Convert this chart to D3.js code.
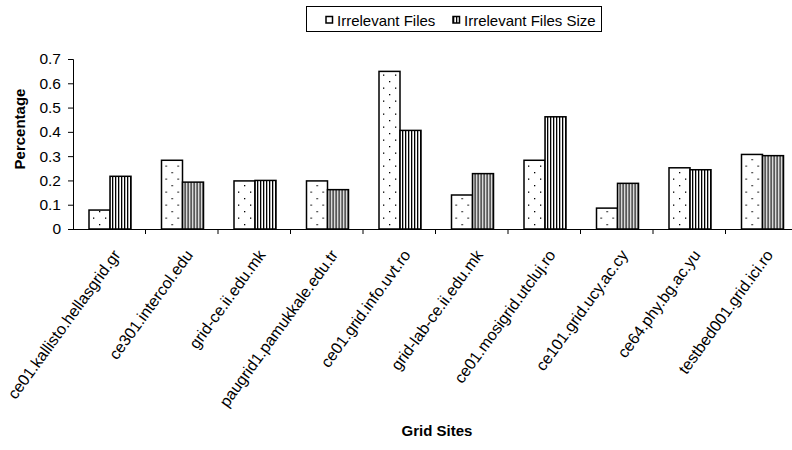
<!DOCTYPE html>
<html>
<head>
<meta charset="utf-8">
<script src="https://cdn.jsdelivr.net/npm/d3@7"></script>
<style>
	body { margin: 0; background: #fff; }
	svg { font-family: Arial, "Liberation Sans", sans-serif; }
</style>
</head>
<body>
<svg id="chart" width="792" height="450"></svg>
<script>
const sites = [
	"ce01.kallisto.hellasgrid.gr", "ce301.intercol.edu", "grid-ce.ii.edu.mk",
	"paugrid1.pamukkale.edu.tr", "ce01.grid.info.uvt.ro", "grid-lab-ce.ii.edu.mk",
	"ce01.mosigrid.utcluj.ro", "ce101.grid.ucy.ac.cy", "ce64.phy.bg.ac.yu",
	"testbed001.grid.ici.ro"
];
const seriesNames = ["Irrelevant Files", "Irrelevant Files Size"];
const irrelevantFiles = [0.078, 0.283, 0.198, 0.198, 0.649, 0.14, 0.283, 0.086, 0.252, 0.307];
const irrelevantSize = [0.217, 0.193, 0.2, 0.162, 0.406, 0.228, 0.462, 0.188, 0.244, 0.302];
const yTicks = [0, 0.1, 0.2, 0.3, 0.4, 0.5, 0.6, 0.7];

const margin = {top: 59, left: 73, bottom: 229, right: 798};

const svg = d3.select("#chart");
const defs = svg.append("defs");

// dotted fill
const dots = defs.append("pattern")
	.attr("id", "dots")
	.attr("patternUnits", "userSpaceOnUse")
	.attr("width", 12).attr("height", 13);
dots.append("rect").attr("width", 12).attr("height", 13).attr("fill", "#fff");
dots.append("rect").attr("x", 2).attr("y", 3).attr("width", 1.3).attr("height", 1.3).attr("fill", "#000");
dots.append("rect").attr("x", 8).attr("y", 9.5).attr("width", 1.3).attr("height", 1.3).attr("fill", "#000");

// vertical stripes
const stripes = defs.append("pattern")
	.attr("id", "stripes")
	.attr("patternUnits", "userSpaceOnUse")
	.attr("width", 3).attr("height", 6);
stripes.append("rect").attr("width", 3).attr("height", 6).attr("fill", "#fff");
stripes.append("rect").attr("x", 0).attr("width", 1.3).attr("height", 6).attr("fill", "#000");

const fills = ["url(#dots)", "url(#stripes)"];

const x0 = d3.scaleBand()
	.domain(sites)
	.range([margin.left, margin.right]);

const x1 = d3.scaleBand()
	.domain(seriesNames)
	.range([16, 58]);

const y = d3.scaleLinear()
	.domain([0, 0.7])
	.range([margin.bottom, margin.top]);

const data = sites.map((s, i) => ({site: s, values: [irrelevantFiles[i], irrelevantSize[i]]}));

// bars
const groups = svg.append("g").selectAll("g")
	.data(data)
	.join("g")
	.attr("transform", d => `translate(${x0(d.site)},0)`);

groups.selectAll("rect")
	.data(d => d.values.map((v, k) => ({name: seriesNames[k], value: v, k})))
	.join("rect")
	.attr("x", d => x1(d.name))
	.attr("y", d => y(d.value))
	.attr("width", x1.bandwidth())
	.attr("height", d => y(0) - y(d.value))
	.attr("fill", d => fills[d.k])
	.attr("stroke", "#000")
	.attr("stroke-width", 1.5);

// y axis
const yAxis = d3.axisLeft(y)
	.tickValues(yTicks)
	.tickFormat(d => d === 0 ? "0" : d3.format(".1f")(d))
	.tickSizeOuter(0)
	.tickSize(5)
	.tickPadding(7);

svg.append("g")
	.attr("transform", `translate(${margin.left},0)`)
	.call(yAxis)
	.call(g => g.selectAll("text").attr("font-size", 15.5).attr("fill", "#000").attr("font-family", "Arial, 'Liberation Sans', sans-serif"))
	.call(g => g.select(".domain").attr("stroke", "#000"));

// x axis: line, ticks on category boundaries
const xAxisG = svg.append("g");
xAxisG.append("line")
	.attr("x1", margin.left).attr("x2", margin.right)
	.attr("y1", y(0) + 0.5).attr("y2", y(0) + 0.5)
	.attr("stroke", "#000");

xAxisG.selectAll(".xtick")
	.data(sites.slice(1).concat([null]))
	.join("line")
	.attr("class", "xtick")
	.attr("x1", d => d ? x0(d) : margin.right)
	.attr("x2", d => d ? x0(d) : margin.right)
	.attr("y1", y(0))
	.attr("y2", y(0) + 5)
	.attr("stroke", "#000");

xAxisG.selectAll(".xlabel")
	.data(sites)
	.join("text")
	.attr("class", "xlabel")
	.attr("text-anchor", "end")
	.attr("font-size", 16)
	.attr("transform", d => `translate(${x0(d) + x0.bandwidth() / 2 + 12},255) rotate(-54)`)
	.text(d => d);

// axis titles
svg.append("text")
	.attr("transform", "translate(25,129) rotate(-90)")
	.attr("text-anchor", "middle")
	.attr("font-weight", "bold")
	.attr("font-size", 15)
	.text("Percentage");

svg.append("text")
	.attr("x", 437)
	.attr("y", 436)
	.attr("text-anchor", "middle")
	.attr("font-weight", "bold")
	.attr("font-size", 15)
	.text("Grid Sites");

// legend
const legend = svg.append("g");
legend.append("rect")
	.attr("x", 306.5).attr("y", 6.5)
	.attr("width", 295).attr("height", 25)
	.attr("fill", "#fff")
	.attr("stroke", "#000");

const legendX = [326, 453];
const items = legend.selectAll(".item")
	.data(seriesNames)
	.join("g")
	.attr("class", "item")
	.attr("transform", (d, i) => `translate(${legendX[i]},0)`);

items.append("rect")
	.attr("x", 0).attr("y", 16.5)
	.attr("width", 6.5).attr("height", 6.5)
	.attr("fill", (d, i) => i === 0 ? "#fff" : fills[1])
	.attr("stroke", "#000")
	.attr("stroke-width", 1.5);

items.append("text")
	.attr("x", 11)
	.attr("y", 25.5)
	.attr("font-size", 15)
	.text(d => d);
</script>
</body>
</html>
